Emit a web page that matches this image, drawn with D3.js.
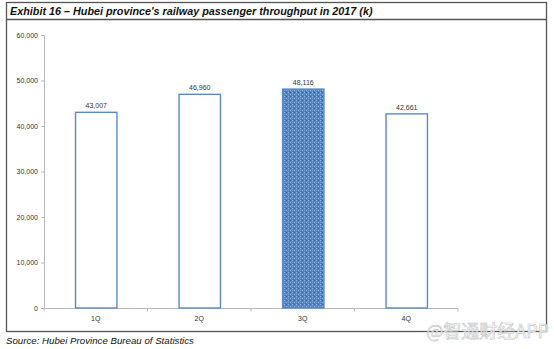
<!DOCTYPE html>
<html>
<head>
<meta charset="utf-8">
<script src="https://cdn.jsdelivr.net/npm/d3@7"></script>
<style>
  html, body { margin: 0; padding: 0; background: #fff; }
  svg { display: block; font-family: "Liberation Sans", Arial, sans-serif; }
</style>
</head>
<body>
<svg id="chart" width="554" height="349"></svg>
<script>
// Quarterly railway passenger throughput, Hubei, 2017 (thousands)
const quarters = ["1Q", "2Q", "3Q", "4Q"];
const passengers = [43007, 46960, 48116, 42661];
const highlighted = ["3Q"];
const yTicks = [0, 10000, 20000, 30000, 40000, 50000, 60000];

const titleText = "Exhibit 16 \u2013 Hubei province's railway passenger throughput in 2017 (k)";
const sourceText = "Source: Hubei Province Bureau of Statistics";
const watermarkText = "@智通财经APP";

const svg = d3.select("#chart");

// textured fill for the highlighted bar
const defs = svg.append("defs");
const pat = defs.append("pattern")
  .attr("id", "weave")
  .attr("patternUnits", "userSpaceOnUse")
  .attr("width", 4).attr("height", 4);
pat.append("rect").attr("width", 4).attr("height", 4).attr("fill", "#5683c6");
pat.append("rect").attr("x", 0).attr("y", 0).attr("width", 1).attr("height", 1).attr("fill", "#90b2e0");
pat.append("rect").attr("x", 2).attr("y", 2).attr("width", 1).attr("height", 1).attr("fill", "#90b2e0");
pat.append("rect").attr("x", 2).attr("y", 0).attr("width", 1).attr("height", 1).attr("fill", "#3b69ad");
pat.append("rect").attr("x", 0).attr("y", 2).attr("width", 1).attr("height", 1).attr("fill", "#729ad2");
pat.append("rect").attr("x", 1).attr("y", 3).attr("width", 1).attr("height", 1).attr("fill", "#4470b3");

// outer frame and title band
svg.append("rect")
  .attr("x", 6.5).attr("y", 2.5).attr("width", 540).attr("height", 329)
  .attr("fill", "none").attr("stroke", "#555").attr("stroke-width", 1.3);
svg.append("line")
  .attr("x1", 6.5).attr("x2", 546.5).attr("y1", 19.5).attr("y2", 19.5)
  .attr("stroke", "#555").attr("stroke-width", 1.3);

svg.append("text")
  .attr("x", 10).attr("y", 15)
  .attr("font-size", 10.8).attr("font-weight", "bold").attr("font-style", "italic")
  .attr("fill", "#111")
  .text(titleText);

const margin = { left: 44, right: 458, top: 35, bottom: 308 };

const x = d3.scaleBand()
  .domain(quarters)
  .range([margin.left, margin.right])
  .paddingInner(0.6).paddingOuter(0.3);

const y = d3.scaleLinear()
  .domain([0, 60000])
  .range([margin.bottom, margin.top]);

// y axis
const yAxis = svg.append("g")
  .attr("transform", `translate(${margin.left},0)`)
  .call(d3.axisLeft(y).tickValues(yTicks).tickFormat(d3.format(",")).tickSize(3).tickPadding(3));
yAxis.select(".domain").attr("stroke", "#b8b8b8");
yAxis.selectAll(".tick line").attr("stroke", "#b8b8b8");
yAxis.selectAll(".tick text").attr("font-size", 7).attr("fill", "#333")
  .attr("font-family", "Liberation Sans, Arial, sans-serif");

// x axis with ticks at category boundaries
const xAxisG = svg.append("g").attr("transform", `translate(0,${margin.bottom})`);
xAxisG.append("line")
  .attr("x1", margin.left).attr("x2", margin.right)
  .attr("y1", 0.5).attr("y2", 0.5)
  .attr("stroke", "#b8b8b8");
const bounds = d3.range(quarters.length + 1).map(i => margin.left + i * (margin.right - margin.left) / quarters.length);
xAxisG.selectAll(".xt").data(bounds).join("line")
  .attr("class", "xt")
  .attr("x1", d => d).attr("x2", d => d)
  .attr("y1", 0.5).attr("y2", 3.5)
  .attr("stroke", "#b8b8b8");
xAxisG.selectAll(".xl").data(quarters).join("text")
  .attr("class", "xl")
  .attr("x", d => x(d) + x.bandwidth() / 2)
  .attr("y", 12.5)
  .attr("text-anchor", "middle")
  .attr("font-size", 7).attr("fill", "#333")
  .text(d => d);

// bars
svg.selectAll(".bar").data(quarters).join("rect")
  .attr("class", "bar")
  .attr("x", d => x(d) + 0.5)
  .attr("y", (d, i) => y(passengers[i]))
  .attr("width", x.bandwidth())
  .attr("height", (d, i) => y(0) - y(passengers[i]))
  .attr("fill", d => highlighted.includes(d) ? "url(#weave)" : "#fff")
  .attr("stroke", "#5b8ac2")
  .attr("stroke-width", 1.4);

// value labels
svg.selectAll(".val").data(quarters).join("text")
  .attr("class", "val")
  .attr("x", d => x(d) + x.bandwidth() / 2 + 0.5)
  .attr("y", (d, i) => y(passengers[i]) - 4)
  .attr("text-anchor", "middle")
  .attr("font-size", 7).attr("fill", "#333")
  .text((d, i) => d3.format(",")(passengers[i]));

// source note
svg.append("text")
  .attr("x", 6).attr("y", 344)
  .attr("font-size", 9.7).attr("font-style", "italic").attr("fill", "#111")
  .text(sourceText);

// watermark
svg.append("text")
  .attr("x", 549).attr("y", 338)
  .attr("text-anchor", "end")
  .attr("font-size", 18)
  .attr("font-family", "Noto Sans CJK SC, sans-serif")
  .attr("fill", "#fff").attr("fill-opacity", 0.85)
  .attr("stroke", "#c4c4c4").attr("stroke-width", 0.6)
  .text(watermarkText);
</script>
</body>
</html>
